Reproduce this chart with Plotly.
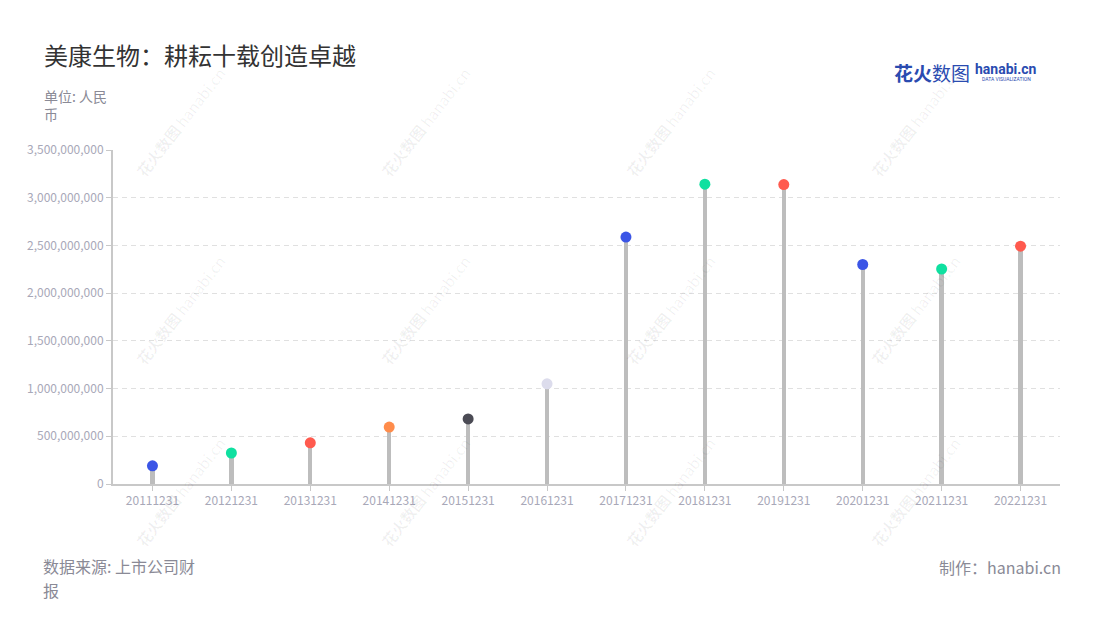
import plotly.graph_objects as go

categories = ["20111231", "20121231", "20131231", "20141231", "20151231", "20161231",
              "20171231", "20181231", "20191231", "20201231", "20211231", "20221231"]
values = [190e6, 325e6, 432e6, 597e6, 682e6, 1050e6,
          2588e6, 3142e6, 3138e6, 2300e6, 2253e6, 2492e6]
marker_colors = ["#3b55e6", "#0fe0a0", "#ff5a4e", "#ff8c4b", "#4b4b55", "#dcdcec",
                 "#3b55e6", "#0fe0a0", "#ff5a4e", "#3b55e6", "#0fe0a0", "#ff5a4e"]
y_ticks = [0, 500e6, 1000e6, 1500e6, 2000e6, 2500e6, 3000e6, 3500e6]
y_tick_text = ["0", "500,000,000", "1,000,000,000", "1,500,000,000", "2,000,000,000",
               "2,500,000,000", "3,000,000,000", "3,500,000,000"]

FONT = "Noto Sans CJK SC"

fig = go.Figure()
fig.add_trace(go.Bar(x=categories, y=values, width=0.055, marker=dict(color="#bdbdbd", line=dict(width=0)),
                     hoverinfo="skip", showlegend=False))
fig.add_trace(go.Scatter(x=categories, y=values, mode="markers",
                         marker=dict(size=11, color=marker_colors, line=dict(width=0)),
                         showlegend=False))

# plot area in page pixels
L, R, T, B = 113, 1060, 150, 484


def px(x, y):
    return dict(xref="paper", yref="paper", x=(x - L) / (R - L), y=(B - y) / (B - T))


# watermarks
wm_x = [180, 425, 670, 915]
wm_y = [122, 310, 492]
annotations = []
for wx in wm_x:
    for wy in wm_y:
        annotations.append(dict(text="<b>花火数图</b> hanabi.cn", **px(wx, wy), showarrow=False, textangle=-52,
                                font=dict(family=FONT, size=15, color="rgba(0,0,0,0.06)"),
                                xanchor="center", yanchor="middle", borderpad=0))

grey = "#8a8a96"
annotations += [
    dict(text="美康生物：耕耘十载创造卓越", **px(42, 55), showarrow=False, xanchor="left", yanchor="middle",
         font=dict(family=FONT, size=24, color="#333333")),
    dict(text="单位: 人民<br>币", **px(42, 105), showarrow=False, xanchor="left", yanchor="middle",
         align="left", font=dict(family=FONT, size=14, color=grey)),
    dict(text="数据来源: 上市公司财", **px(42, 566), showarrow=False, xanchor="left", yanchor="middle",
         borderpad=0, font=dict(family=FONT, size=16, color=grey)),
    dict(text="报", **px(42, 590), showarrow=False, xanchor="left", yanchor="middle",
         borderpad=0, font=dict(family=FONT, size=16, color=grey)),
    dict(text="制作：hanabi.cn", **px(1063, 567), showarrow=False, xanchor="right", yanchor="middle",
         font=dict(family=FONT, size=16, color=grey)),
    dict(text="<b>花火</b>数图", **px(932, 72), showarrow=False, xanchor="center", yanchor="middle",
         font=dict(family=FONT, size=19, color="#2a4bb0")),
    dict(text="<b>hanabi.cn</b>", **px(1006, 69), showarrow=False, xanchor="center", yanchor="middle",
         font=dict(family="Roboto", size=14, color="#2a4bb0")),
    dict(text="DATA VISUALIZATION", **px(1006, 79), showarrow=False, xanchor="center", yanchor="middle",
         font=dict(family="Roboto", size=5, color="#2a4bb0")),
]

# page body has an 8px margin, so shift the figure up/left by 8px
fig.update_layout(
    width=1100, height=620,
    margin=dict(l=L - 8, r=1100 - R + 8, t=T - 8, b=620 - B + 8),
    paper_bgcolor="white", plot_bgcolor="white",
    font=dict(family=FONT, size=12, color="#a8a8b4"),
    annotations=annotations,
    bargap=0,
    xaxis=dict(type="category", range=[-0.5, len(categories) - 0.5], showline=True, linecolor="#c8c8c8",
               linewidth=2, ticks="outside", ticklen=5, tickcolor="#c8c8c8", showgrid=False,
               tickfont=dict(family=FONT, size=12, color="#a8a8b8")),
    yaxis=dict(range=[0, 3.5e9], tickvals=y_ticks, ticktext=y_tick_text, showline=True,
               linecolor="#c8c8c8", linewidth=2, ticks="outside", ticklen=5, tickcolor="#c8c8c8",
               showgrid=True, gridcolor="#e0e0e0", griddash="5px,4px", gridwidth=1, zeroline=False,
               tickfont=dict(family=FONT, size=12, color="#a8a8b8")),
)

fig.write_html("out.html")
